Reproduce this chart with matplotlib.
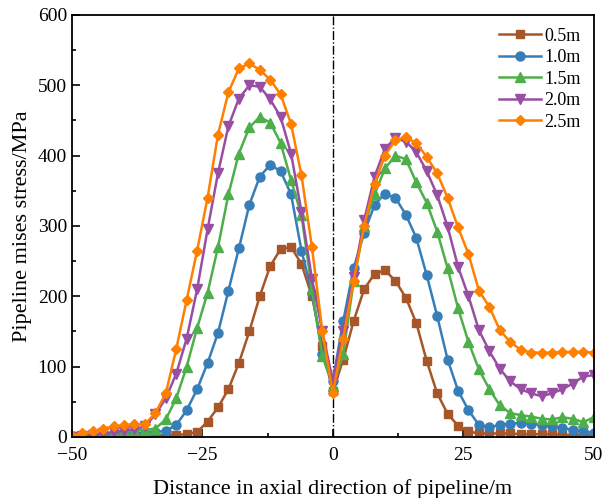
import numpy as np
import matplotlib.pyplot as plt

# axial positions (m)
x = [-50, -48, -46, -44, -42, -40, -38, -36, -34, -32, -30, -28, -26, -24, -22, -20, -18,
     -16, -14, -12, -10, -8, -6, -4, -2, 0, 2, 4, 6, 8, 10, 12, 14, 16, 18, 20, 22, 24,
     26, 28, 30, 32, 34, 36, 38, 40, 42, 44, 46, 48, 50]

# mises stress (MPa) for each burial depth
s_05 = [1, 1, 1, 1, 1, 2, 2, 2, 2, 3, 3, 4, 7, 22, 42, 68, 105, 150, 200, 243, 267, 270,
        246, 200, 130, 65, 110, 165, 210, 232, 237, 222, 198, 162, 108, 62, 33, 16, 8, 5,
        5, 5, 5, 4, 4, 4, 4, 3, 3, 3, 3]
s_10 = [2, 2, 3, 3, 4, 4, 5, 6, 7, 9, 17, 38, 68, 105, 148, 208, 268, 330, 370, 387, 378,
        345, 265, 205, 118, 80, 165, 240, 290, 330, 346, 340, 316, 283, 230, 172, 110, 66,
        38, 17, 14, 17, 19, 20, 19, 17, 15, 13, 10, 8, 6]
s_15 = [0, 2, 3, 5, 7, 8, 9, 10, 12, 25, 55, 100, 155, 205, 270, 345, 403, 440, 455, 447,
        418, 365, 315, 210, 115, 72, 118, 222, 300, 345, 382, 400, 395, 362, 333, 292, 240,
        183, 135, 96, 68, 45, 34, 31, 29, 26, 25, 28, 26, 21, 28]
s_20 = [0, 1, 3, 5, 7, 9, 11, 15, 32, 55, 90, 140, 210, 295, 375, 442, 481, 500, 498, 480,
        455, 403, 320, 225, 150, 80, 150, 228, 308, 370, 410, 425, 420, 405, 378, 344, 299,
        242, 200, 152, 122, 97, 79, 68, 62, 58, 62, 68, 76, 86, 88]
s_25 = [2, 5, 8, 12, 15, 17, 18, 18, 34, 62, 125, 195, 265, 340, 430, 490, 524, 531, 522,
        508, 487, 445, 372, 270, 150, 62, 140, 222, 300, 360, 400, 422, 426, 418, 398, 375,
        340, 298, 260, 208, 185, 152, 135, 124, 120, 120, 120, 121, 121, 121, 120]

labels = ['0.5m', '1.0m', '1.5m', '2.0m', '2.5m']
series = [s_05, s_10, s_15, s_20, s_25]
colors = ['#a65628', '#377eb8', '#4daf4a', '#984ea3', '#ff7f00']
markers = ['s', 'o', '^', 'v', 'D']
msizes = [5.5, 6.5, 6.5, 6.5, 5.5]

plt.rcParams['font.family'] = ['Liberation Serif', 'DejaVu Serif']

fig = plt.figure(figsize=(6.04, 4.98), dpi=100)
ax = fig.add_axes([0.119, 0.1225, 0.864, 0.8475])

for ys, lab, c, m, ms in zip(series, labels, colors, markers, msizes):
    ax.plot(x, ys, color=c, marker=m, markersize=ms, linewidth=1.8, label=lab)

# symmetry line at the fault
ax.axvline(0, color='black', linestyle='-.', linewidth=1.0, zorder=0)

ax.set_xlim(-50, 50)
ax.set_ylim(0, 600)
ax.set_xticks([-50, -25, 0, 25, 50])
ax.set_xticklabels(['\u221250', '\u221225', '0', '25', '50'])
ax.set_xticks([-37.5, -12.5, 12.5, 37.5], minor=True)
ax.set_yticks(np.arange(0, 601, 100))
ax.set_yticks(np.arange(50, 600, 100), minor=True)
ax.tick_params(which='major', direction='in', length=6, width=1.2, labelsize=14,
               top=False, right=False)
ax.tick_params(which='minor', direction='in', length=3, width=1.2,
               top=False, right=False)
ax.tick_params(axis='x', which='major', pad=7)
for sp in ax.spines.values():
    sp.set_linewidth(1.3)

ax.set_xlabel('Distance in axial direction of pipeline/m', fontsize=16, labelpad=11)
ax.set_ylabel('Pipeline mises stress/MPa', fontsize=16, labelpad=4)

ax.legend(loc='upper right', frameon=False, fontsize=13, handlelength=2.3,
          handletextpad=0.2, labelspacing=0.25, borderaxespad=0.3)

fig.savefig('out.png', dpi=100)
